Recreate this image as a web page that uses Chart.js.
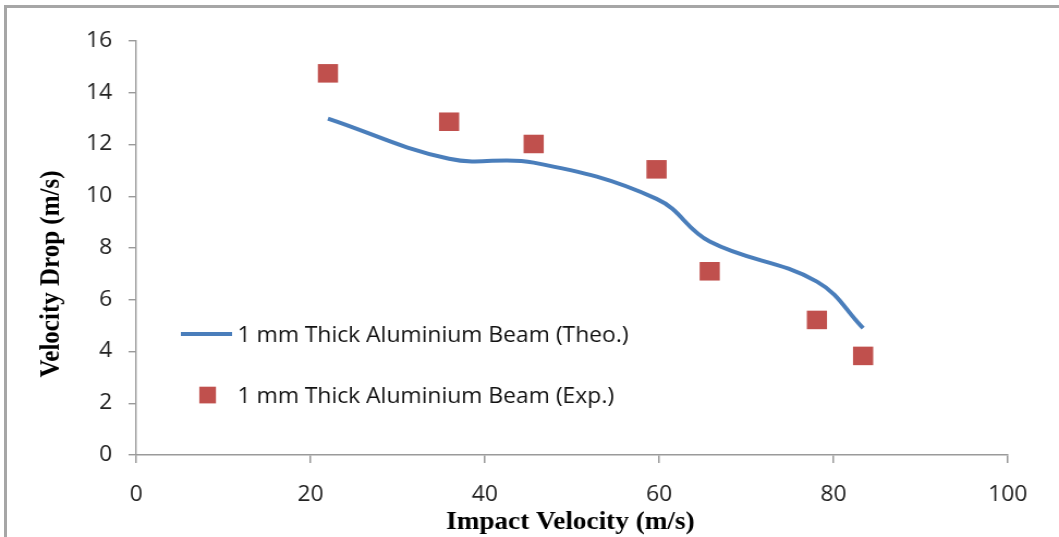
<!DOCTYPE html>
<html>
<head>
<meta charset="utf-8">
<script src="https://cdn.jsdelivr.net/npm/chart.js@4.4.1/dist/chart.umd.min.js"></script>
<style>
  html, body { margin: 0; padding: 0; background: #fff; overflow: hidden; }
  #wrap { position: relative; width: 1059px; height: 537px; overflow: hidden; }
  #frame {
    position: absolute; left: 4px; top: 5px; width: 1100px; height: 600px;
    border: 3px solid #a6a6a6; box-sizing: border-box; pointer-events: none;
  }
  /* the chart is laid out slightly narrower and widened to the full frame */
  #chart { position: absolute; left: 0; top: 0; transform-origin: 0 0; transform: scaleX(1.0895); }
</style>
</head>
<body>
<div id="wrap">
  <canvas id="chart" width="972" height="537"></canvas>
  <div id="frame"></div>
</div>
<script>
// Impact velocity (m/s) for each test
const impactVelocity = [22.0, 35.9, 45.6, 59.7, 65.8, 78.1, 83.4];
// Theoretical velocity drop (m/s)
const theoDrop = [13.0, 11.45, 11.3, 9.9, 8.25, 6.7, 4.9];
// Experimental velocity drop (m/s)
const expDrop = [14.75, 12.88, 12.02, 11.04, 7.1, 5.22, 3.83];

const theoLabel = '1 mm Thick Aluminium Beam (Theo.)';
const expLabel = '1 mm Thick Aluminium Beam (Exp.)';
const xTitle = 'Impact Velocity (m/s)';
const yTitle = 'Velocity Drop (m/s)';
const xTicks = [0, 20, 40, 60, 80, 100];
const yTicks = [0, 2, 4, 6, 8, 10, 12, 14, 16];

const BLUE = '#4A7EBB';
const RED = '#C0504D';
const AXIS = '#9a9a9a';
const TICK_FONT = { family: '"Open Sans", sans-serif', size: 21 };

const toPoints = (xs, ys) => xs.map((x, i) => ({ x: x, y: ys[i] }));

// Axis titles drawn at fixed offsets around the plot area
const axisTitles = {
  id: 'axisTitles',
  afterDraw(chart) {
    const ctx = chart.ctx;
    const a = chart.chartArea;
    ctx.save();
    ctx.fillStyle = '#000';
    ctx.font = 'bold 25px "Liberation Serif", "Times New Roman", serif';
    ctx.textAlign = 'center';
    ctx.textBaseline = 'alphabetic';
    ctx.fillText(xTitle, (a.left + a.right) / 2 - 1.5, a.bottom + 74);
    ctx.translate(a.left - 71, a.top + 233);
    ctx.rotate(-Math.PI / 2);
    ctx.fillText(yTitle, 0, 0);
    ctx.restore();
  }
};

// Legend drawn inside the plot area, to the lower left
const innerLegend = {
  id: 'innerLegend',
  afterDraw(chart) {
    const ctx = chart.ctx;
    const a = chart.chartArea;
    const ds = chart.data.datasets;
    const x0 = a.left;
    ctx.save();
    ctx.font = '21px "Open Sans", sans-serif';
    ctx.textBaseline = 'middle';
    ctx.textAlign = 'left';
    // line sample
    ctx.strokeStyle = ds[0].borderColor;
    ctx.lineWidth = 4;
    ctx.beginPath();
    ctx.moveTo(x0 + 41, a.top + 293);
    ctx.lineTo(x0 + 88, a.top + 293);
    ctx.stroke();
    ctx.fillStyle = '#111';
    ctx.fillText(ds[0].label, x0 + 93, a.top + 295);
    // marker sample
    ctx.fillStyle = ds[1].backgroundColor;
    ctx.fillRect(x0 + 65.6 - 7.7, a.top + 354 - 8.3, 15.3, 16.7);
    ctx.fillStyle = '#111';
    ctx.fillText(ds[1].label, x0 + 93, a.top + 356);
    ctx.restore();
  }
};

new Chart(document.getElementById('chart'), {
  type: 'scatter',
  data: {
    datasets: [
      {
        label: theoLabel,
        data: toPoints(impactVelocity, theoDrop),
        showLine: true,
        borderColor: BLUE,
        backgroundColor: BLUE,
        borderWidth: 4,
        pointRadius: 0,
        tension: 0.4,
        order: 2
      },
      {
        label: expLabel,
        data: toPoints(impactVelocity, expDrop),
        showLine: false,
        pointStyle: 'rect',
        pointRadius: 13.1,
        borderWidth: 0,
        backgroundColor: RED,
        borderColor: RED,
        order: 1
      }
    ]
  },
  options: {
    responsive: false,
    animation: false,
    events: [],
    layout: { padding: { left: 25, top: 41, right: 47, bottom: 0 } },
    plugins: { legend: { display: false }, tooltip: { enabled: false } },
    scales: {
      x: {
        type: 'linear',
        min: 0, max: 100,
        afterBuildTicks: (s) => { s.ticks = xTicks.map(v => ({ value: v })); },
        afterFit: (s) => { s.height = 82; },
        ticks: { color: '#222', font: TICK_FONT, padding: 19, maxRotation: 0 },
        grid: { display: true, drawOnChartArea: false, drawTicks: true, tickLength: 8, color: AXIS, lineWidth: 1.5 },
        border: { display: true, color: AXIS, width: 1.5 }
      },
      y: {
        type: 'linear',
        min: 0, max: 16,
        afterBuildTicks: (s) => { s.ticks = yTicks.map(v => ({ value: v })); },
        afterFit: (s) => { s.width = 100; },
        ticks: { color: '#222', font: TICK_FONT, padding: 15 },
        grid: { display: true, drawOnChartArea: false, drawTicks: true, tickLength: 7, color: AXIS, lineWidth: 1.4 },
        border: { display: true, color: AXIS, width: 1.4 }
      }
    }
  },
  plugins: [axisTitles, innerLegend]
});
</script>
</body>
</html>
